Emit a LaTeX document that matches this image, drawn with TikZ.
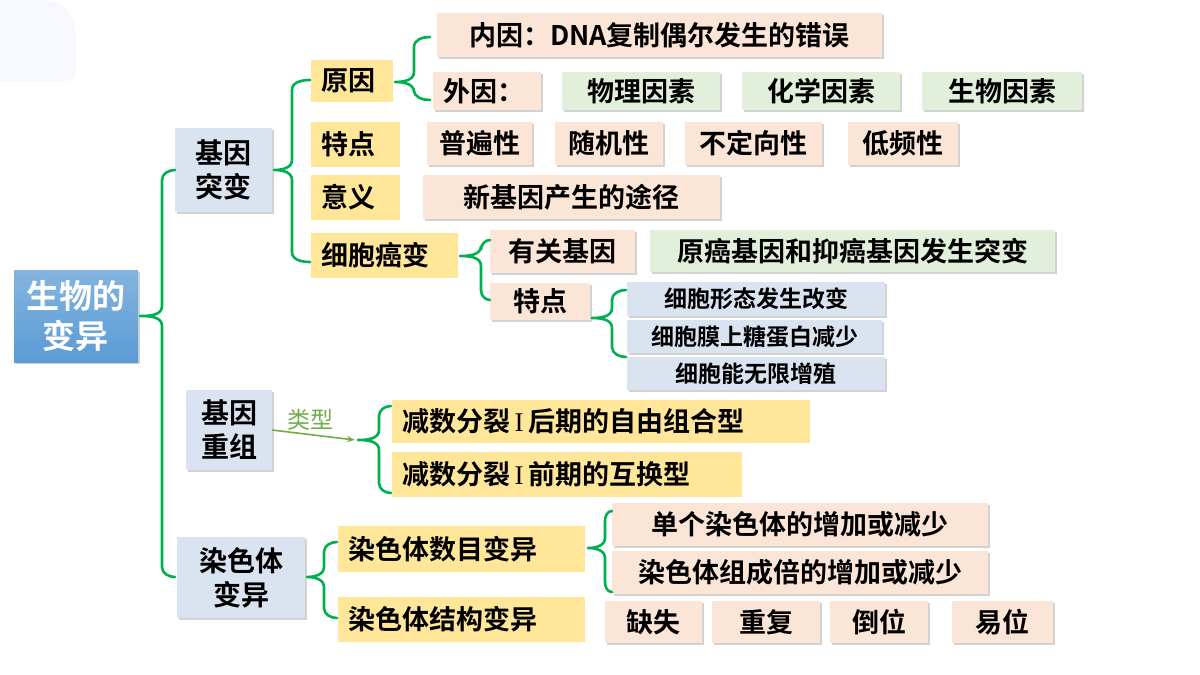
\documentclass[tikz,border=0pt]{standalone}
\usepackage{fontspec}
\setmainfont{Noto Sans CJK SC}[UprightFont=* Bold]
\newfontfamily\thinfont{Noto Sans CJK SC}
\newfontfamily\romfont{Liberation Serif}
\usetikzlibrary{shadows,arrows.meta}
\definecolor{gr}{HTML}{00B050}
\definecolor{ol}{HTML}{70AD47}
\definecolor{yel}{HTML}{FFE699}
\definecolor{pea}{HTML}{FBE5D6}
\definecolor{lgr}{HTML}{E2EFDA}
\definecolor{lbl}{HTML}{DAE3F0}
\definecolor{blu}{HTML}{5B9BD5}
\tikzset{
 bx/.style={inner sep=0pt,font=\fontsize{27}{31}\selectfont,text=black},
 sh/.style={drop shadow={opacity=0.35,shadow xshift=1.5pt,shadow yshift=-1.5pt}},
 yb/.style={fill=yel},
 pb/.style={fill=pea,sh},
 gb/.style={fill=lgr,sh},
 lb/.style={fill=lbl,sh},
 brc/.style={draw=gr,line width=2.6pt,line cap=round},
}
% centred box
\newcommand\bx[7]{\path[#6] (#2,#3) rectangle (#4,#5);
 \node[bx] (#1) at ({(#2+#4)/2},{(#3+#5)/2}) {#7};
 \coordinate (#1e) at (#4,{(#3+#5)/2});}
% left-aligned box
\newcommand\lx[7]{\path[#6] (#2,#3) rectangle (#4,#5);
 \node[bx,anchor=west] (#1) at (#2+10,{(#3+#5)/2}) {#7};
 \coordinate (#1e) at (#4,{(#3+#5)/2});}
\newcommand\RI{\,{\romfont I}\,}
\begin{document}
\begin{tikzpicture}[x=1pt,y=-1pt]
\useasboundingbox (0,0) rectangle (1200,675);
\fill[white] (0,0) rectangle (1200,675);
\fill[blue!3] (0,0) -- (45,0) to[out=0,in=90] (76,35) -- (76,70) to[out=-90,in=0] (40,82) -- (0,82) -- cycle;
\def\br#1#2#3#4#5#6{% tipx tipy xbar ytop ybot xend
 \draw[brc] (#6,#4) to[out=180,in=90] (#3,#4+10) -- (#3,#2-10) to[out=-90,in=0] (#1,#2)
   (#1,#2) to[out=0,in=90] (#3,#2+10) -- (#3,#5-10) to[out=-90,in=180] (#6,#5);}
% main
\path[top color=blu!75,bottom color=blu,sh] (14,270) rectangle (138,362);
\node[bx,text=white,font=\fontsize{33}{40}\selectfont,align=center] (root) at (76,316) {生物的\\变异};
\bx{jt}{175}{128}{272}{212}{lb}{\parbox{2.2em}{\centering\fontsize{28}{34}\selectfont 基因\\突变}}
\bx{jz}{186}{390}{272}{470}{lb}{\parbox{2.2em}{\centering\fontsize{28}{34}\selectfont 基因\\重组}}
\bx{rs}{177}{537}{305}{618}{lb}{\parbox{3.2em}{\centering\fontsize{28}{34}\selectfont 染色体\\变异}}
\lx{yy}{311}{60}{393}{102}{yb}{原因}
\lx{td}{311}{122}{400}{167}{yb}{特点}
\lx{yi}{311}{175}{400}{220}{yb}{意义}
\lx{xb}{311}{233}{458}{278}{yb}{细胞癌变}
\bx{ny}{437}{13}{882}{57}{pb}{内因：DNA复制偶尔发生的错误}
\lx{wy}{433}{72}{541}{110}{pb}{外因：}
\bx{wl}{562}{72}{720}{110}{gb}{物理因素}
\bx{hx}{742}{72}{900}{110}{gb}{化学因素}
\bx{sw}{922}{72}{1082}{110}{gb}{生物因素}
\bx{pb1}{427}{122}{532}{165}{pb}{普遍性}
\bx{sj}{555}{122}{663}{165}{pb}{随机性}
\bx{bd}{685}{122}{822}{165}{pb}{不定向性}
\bx{dp}{848}{122}{958}{165}{pb}{低频性}
\bx{xj}{423}{175}{720}{219}{pb}{新基因产生的途径}
\bx{yg}{490}{230}{635}{273}{pb}{有关基因}
\bx{ya}{650}{230}{1055}{272}{gb}{原癌基因和抑癌基因发生突变}
\bx{tz}{490}{283}{590}{320}{pb}{特点}
\bx{c1}{627}{282}{885}{316}{lb}{\fontsize{23}{26}\selectfont 细胞形态发生改变}
\bx{c2}{627}{320}{882}{353}{lb}{\fontsize{23}{26}\selectfont 细胞膜上糖蛋白减少}
\bx{c3}{627}{357}{885}{390}{lb}{\fontsize{23}{26}\selectfont 细胞能无限增殖}
\lx{hq}{392}{400}{810}{443}{yb}{减数分裂\RI 后期的自由组合型}
\lx{qq}{392}{452}{742}{497}{yb}{减数分裂\RI 前期的互换型}
\lx{sm}{338}{526}{585}{572}{yb}{染色体数目变异}
\lx{jg}{338}{597}{585}{642}{yb}{染色体结构变异}
\bx{dg}{612}{503}{988}{546}{pb}{单个染色体的增加或减少}
\bx{zb}{612}{551}{988}{594}{pb}{染色体组成倍的增加或减少}
\bx{qs}{605}{601}{702}{643}{pb}{缺失}
\bx{cf}{712}{601}{820}{643}{pb}{重复}
\bx{dw}{830}{601}{928}{643}{pb}{倒位}
\bx{yw}{952}{601}{1053}{643}{pb}{易位}
% braces
\br{140}{316}{162}{170}{577}{175}
\br{274}{170}{292}{80}{262}{310}
\br{395}{82}{414}{37}{100}{430}
\br{460}{256}{481}{240}{300}{490}
\br{592}{318}{612}{290}{357}{626}
\br{358}{440}{379}{406}{493}{391}
\br{307}{577}{324}{542}{618}{337}
\br{588}{548}{605}{511}{592}{612}
% arrow
\draw[ol,line width=1.6pt,-{Stealth[length=8pt]}] (jze) -- (355,440);
\node[ol,font=\thinfont\fontsize{23}{26}\selectfont,anchor=south] (lx) at (310,434) {类型};
\end{tikzpicture}
\end{document}
